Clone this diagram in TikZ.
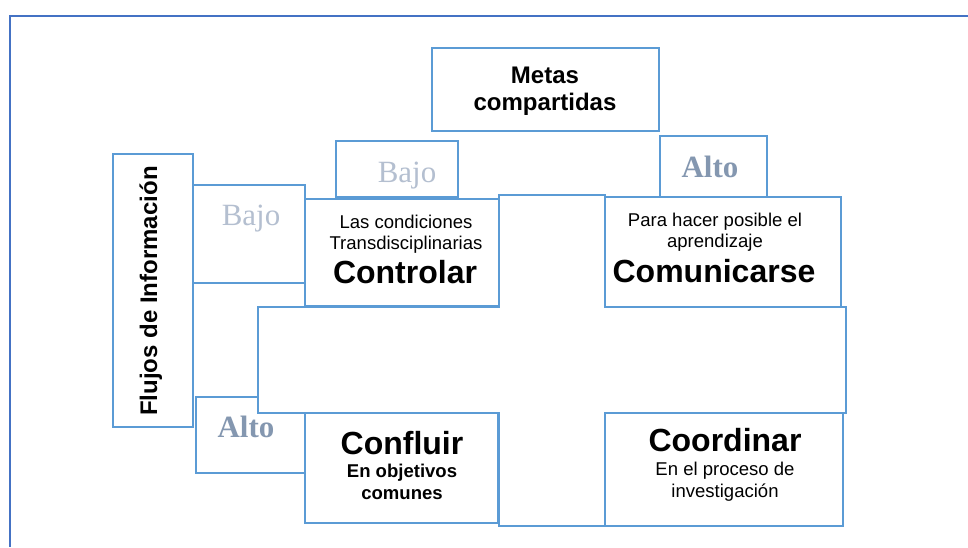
\documentclass[tikz,border=0pt]{standalone}
\usepackage{fontspec}
\setmainfont{Liberation Sans}
\newfontfamily\timesfont{Liberation Serif}

\definecolor{boxblue}{HTML}{5B9BD5}
\definecolor{frameblue}{HTML}{4472C4}
\definecolor{lowgray}{HTML}{B4BFD0}
\definecolor{highgray}{HTML}{8497B0}

\tikzset{
  box/.style={draw=boxblue, line width=2.1pt, fill=white},
  txt/.style={anchor=base, inner sep=0pt, font=\fontsize{13.9}{16}\selectfont},
  txtbf/.style={txt, font=\bfseries\fontsize{13.9}{16}\selectfont},
  head/.style={anchor=base, inner sep=0pt, font=\bfseries\fontsize{18}{21}\selectfont},
  verb/.style={anchor=base, inner sep=0pt, font=\bfseries\fontsize{24}{28}\selectfont},
  low/.style={anchor=base, inner sep=0pt, text=lowgray, font=\timesfont\fontsize{23.2}{26}\selectfont},
  high/.style={anchor=base, inner sep=0pt, text=highgray, font=\timesfont\bfseries\fontsize{23.2}{26}\selectfont}
}

\begin{document}
\begin{tikzpicture}[x=0.75pt, y=-0.75pt]

    \useasboundingbox (0,0) rectangle (968,547);

    % Outer frame (only top and left show)
    \draw[frameblue, line width=2.1pt] (968,16) -- (10,16) -- (10,547);

    % Shared goals on top
    \draw[box] (432,48) rectangle (659,131);
    \node[head] (metasA) at (545,83) {Metas};
    \node[head] (metasB) at (545,110) {compartidas};

    % Level tabs above the upper boxes
    \draw[box] (336,141) rectangle (458,197);
    \node[low] (bajoT) at (407,182) {Bajo};
    \draw[box] (660,136) rectangle (767,197);
    \node[high] (altoT) at (710,177) {Alto};

    % Information flow column
    \draw[box] (113,154) rectangle (193,427);
    \node[head, rotate=90] (flujos) at (157,291) {Flujos de Información};

    % Level tabs on the left
    \draw[box] (193,185) rectangle (305,283);
    \node[low] (bajoL) at (251,225) {Bajo};
    \draw[box] (196,397) rectangle (305,473);
    \node[high] (altoL) at (246,437) {Alto};

    % Upper boxes
    \draw[box] (305,199) rectangle (499,306);
    \node[txt] (ctrlA) at (406,228) {Las condiciones};
    \node[txt] (ctrlB) at (406,249) {Transdisciplinarias};
    \node[verb] (ctrlC) at (405,283) {Controlar};

    \draw[box] (605,197) rectangle (841,307);
    \node[txt] (comA) at (715,226) {Para hacer posible el};
    \node[txt] (comB) at (715,247) {aprendizaje};
    \node[verb] (comC) at (714,282) {Comunicarse};

    % Central cross
    \draw[box] (499,195) -- (605,195) -- (605,307) -- (846,307) -- (846,413)
        -- (605,413) -- (605,526) -- (499,526) -- (499,413) -- (258,413)
        -- (258,307) -- (499,307) -- cycle;

    % Lower boxes
    \draw[box] (305,413) rectangle (498,523);
    \node[verb] (confA) at (402,454) {Confluir};
    \node[txtbf] (confB) at (402,477) {En objetivos};
    \node[txtbf] (confC) at (402,499) {comunes};

    \draw[box] (605,413) rectangle (843,526);
    \node[verb] (coorA) at (725,451) {Coordinar};
    \node[txt] (coorB) at (725,475) {En el proceso de};
    \node[txt] (coorC) at (725,497) {investigación};

\end{tikzpicture}
\end{document}
